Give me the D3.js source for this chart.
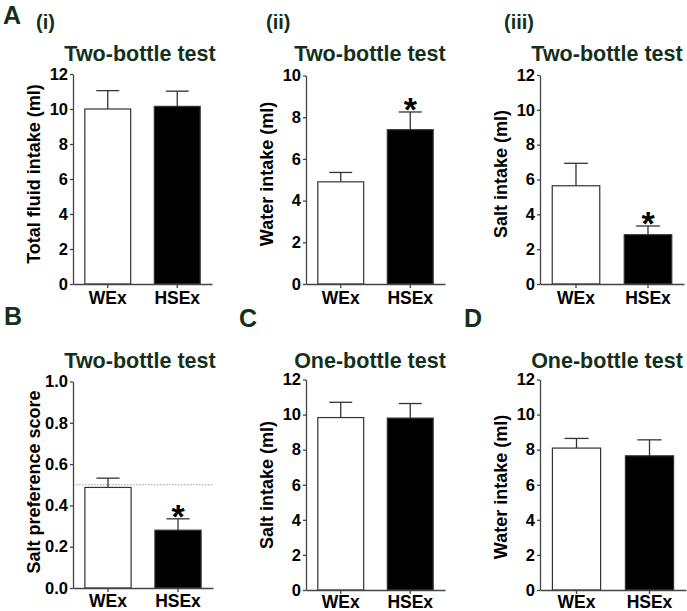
<!DOCTYPE html>
<html>
<head>
<meta charset="utf-8">
<script src="https://cdn.jsdelivr.net/npm/d3@7"></script>
<style>
  body { margin: 0; background: #fff; }
  svg text { font-family: "Liberation Sans", Arial, sans-serif; font-weight: bold; }
</style>
</head>
<body>
<svg id="fig" width="687" height="611"></svg>
<script>
// groups
const groups = ["WEx", "HSEx"];

// A(i) total fluid, two-bottle
const totalFluidMean = [10.0, 10.15];
const totalFluidSem = [1.05, 0.87];
// A(ii) water, two-bottle
const waterTwoMean = [4.9, 7.4];
const waterTwoSem = [0.45, 0.85];
// A(iii) salt, two-bottle
const saltTwoMean = [5.64, 2.83];
const saltTwoSem = [1.29, 0.5];
// B salt preference score
const prefMean = [0.487, 0.28];
const prefSem = [0.045, 0.055];
// C salt, one-bottle
const saltOneMean = [9.83, 9.8];
const saltOneSem = [0.87, 0.83];
// D water, one-bottle
const waterOneMean = [8.09, 7.65];
const waterOneSem = [0.55, 0.91];

const intakeTicks = [0, 2, 4, 6, 8, 10, 12];
const waterTwoTicks = [0, 2, 4, 6, 8, 10];
const prefTicks = [0, 0.2, 0.4, 0.6, 0.8, 1.0];

const svg = d3.select("#fig");
const green = "#14301a";
const axisCol = "#444";
const fontFam = "'Liberation Sans', Arial, sans-serif";

const panels = [
  {title: "Two-bottle test", ylab: "Total fluid intake (ml)", mean: totalFluidMean, sem: totalFluidSem,
   ticks: intakeTicks, max: 12, fmt: d3.format("d"), sig: [false, false],
   x0: 73, x1: 212, top: 74, bottom: 284, tx: 140, ty: 61, ly: 174, pad: 4},
  {title: "Two-bottle test", ylab: "Water intake (ml)", mean: waterTwoMean, sem: waterTwoSem,
   ticks: waterTwoTicks, max: 10, fmt: d3.format("d"), sig: [false, true],
   x0: 306, x1: 445, top: 75.5, bottom: 284, tx: 370, ty: 61, ly: 174, pad: 4},
  {title: "Two-bottle test", ylab: "Salt intake (ml)", mean: saltTwoMean, sem: saltTwoSem,
   ticks: intakeTicks, max: 12, fmt: d3.format("d"), sig: [false, true],
   x0: 540, x1: 684, top: 75, bottom: 284, tx: 607, ty: 61, ly: 174, pad: 4},
  {title: "Two-bottle test", ylab: "Salt preference score", mean: prefMean, sem: prefSem,
   ticks: prefTicks, max: 1, fmt: d3.format(".1f"), sig: [false, true], ref: 0.5,
   x0: 73, x1: 213, top: 381.5, bottom: 588, tx: 140, ty: 368, ly: 482, pad: 3},
  {title: "One-bottle test", ylab: "Salt intake (ml)", mean: saltOneMean, sem: saltOneSem,
   ticks: intakeTicks, max: 12, fmt: d3.format("d"), sig: [false, false],
   x0: 306, x1: 445, top: 379.5, bottom: 590, tx: 370, ty: 368, ly: 485, pad: 1.5},
  {title: "One-bottle test", ylab: "Water intake (ml)", mean: waterOneMean, sem: waterOneSem,
   ticks: intakeTicks, max: 12, fmt: d3.format("d"), sig: [false, false],
   x0: 540, x1: 686, top: 379.5, bottom: 590, tx: 607, ty: 368, ly: 487, pad: 1.5}
];

panels.forEach(p => {
  const x = d3.scaleBand().domain(groups).range([p.x0, p.x1]).paddingInner(0.34).paddingOuter(0.17);
  const y = d3.scaleLinear().domain([0, p.max]).range([p.bottom, p.top]);
  const g = svg.append("g");

  // title
  g.append("text").attr("x", p.tx).attr("y", p.ty).attr("text-anchor", "middle")
    .attr("font-size", 21.5).attr("fill", green).text(p.title);

  // y label
  g.append("text").attr("transform", `translate(${p.x0 - 33},${p.ly}) rotate(-90)`)
    .attr("text-anchor", "middle").attr("font-size", 18).attr("fill", "#000").text(p.ylab);

  // reference line
  if (p.ref != null) {
    g.append("line").attr("x1", p.x0).attr("x2", p.x1)
      .attr("y1", y(p.ref)).attr("y2", y(p.ref))
      .attr("stroke", "#888").attr("stroke-width", 0.8).attr("stroke-dasharray", "1.5,1.5");
  }

  const data = groups.map((k, i) => ({k, m: p.mean[i], s: p.sem[i], sig: p.sig[i], i}));
  const cx = d => x(d.k) + x.bandwidth() / 2;

  // error bars (upper only)
  const eb = g.selectAll(".eb").data(data).enter().append("g");
  eb.append("line").attr("x1", cx).attr("x2", cx)
    .attr("y1", d => y(d.m)).attr("y2", d => y(d.m + d.s)).attr("stroke", "#333").attr("stroke-width", 1.3);
  eb.append("line").attr("x1", d => x(d.k) + x.bandwidth() / 4).attr("x2", d => x(d.k) + x.bandwidth() * 3 / 4)
    .attr("y1", d => y(d.m + d.s)).attr("y2", d => y(d.m + d.s)).attr("stroke", "#333").attr("stroke-width", 1.3);

  // bars
  g.selectAll(".bar").data(data).enter().append("rect")
    .attr("x", d => x(d.k)).attr("width", x.bandwidth())
    .attr("y", d => y(d.m)).attr("height", d => y(0) - y(d.m))
    .attr("fill", d => d.i === 0 ? "#fff" : "#000")
    .attr("stroke", "#333").attr("stroke-width", 1.2);

  // significance
  g.selectAll(".sig").data(data.filter(d => d.sig)).enter().append("text")
    .attr("x", cx).attr("y", d => y(d.m + d.s) + 9)
    .attr("text-anchor", "middle").attr("font-size", 34).attr("fill", "#000").text("*");

  // axes
  const ya = g.append("g").attr("transform", `translate(${p.x0},0)`)
    .call(d3.axisLeft(y).tickValues(p.ticks).tickFormat(p.fmt).tickSize(3).tickPadding(2).tickSizeOuter(0));
  ya.select(".domain").attr("stroke", axisCol).attr("stroke-width", 1.3);
  ya.selectAll(".tick line").attr("stroke", axisCol).attr("stroke-width", 1.3);
  ya.selectAll(".tick text").attr("font-size", 16.5).attr("fill", "#000")
    .style("font-family", fontFam).style("font-weight", "bold");

  const xa = g.append("g").attr("transform", `translate(0,${p.bottom})`)
    .call(d3.axisBottom(x).tickSize(4).tickPadding(p.pad).tickSizeOuter(0));
  xa.select(".domain").attr("stroke", axisCol).attr("stroke-width", 1.3);
  xa.selectAll(".tick line").attr("stroke", axisCol).attr("stroke-width", 1.3);
  xa.selectAll(".tick text").attr("font-size", 17.5).attr("fill", "#000")
    .style("font-family", fontFam).style("font-weight", "bold");
});

// panel letters
const letters = [
  {t: "A", x: 3, y: 24, s: 25}, {t: "(i)", x: 36, y: 29, s: 20},
  {t: "(ii)", x: 266, y: 29, s: 20}, {t: "(iii)", x: 504, y: 29, s: 20},
  {t: "B", x: 4, y: 325, s: 25}, {t: "C", x: 239, y: 327, s: 25}, {t: "D", x: 464, y: 327, s: 25}
];
svg.selectAll(".lbl").data(letters).enter().append("text")
  .attr("x", d => d.x).attr("y", d => d.y).attr("font-size", d => d.s).attr("fill", green).text(d => d.t);
</script>
</body>
</html>
